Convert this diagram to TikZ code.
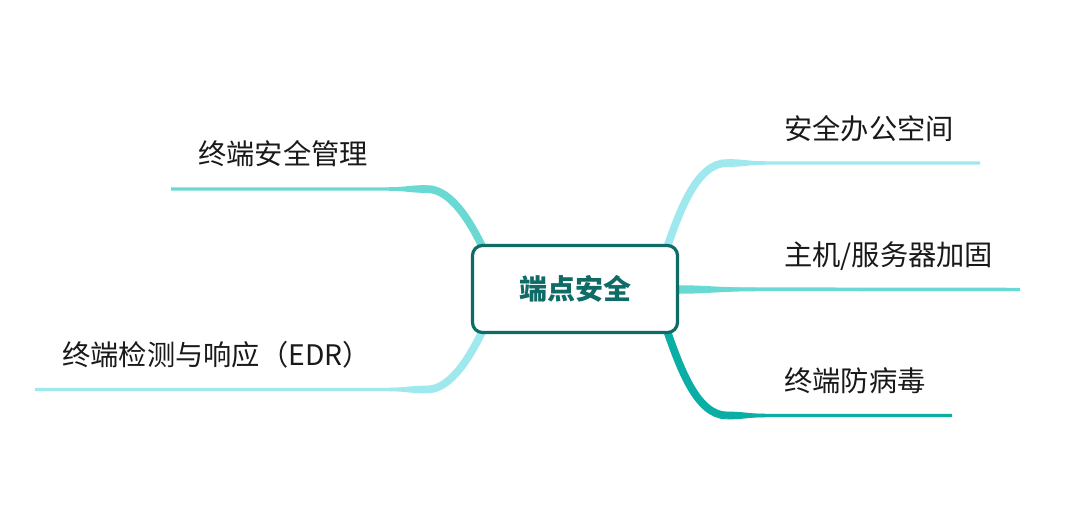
\documentclass[tikz,border=0pt]{standalone}
\usepackage{fontspec}
\setmainfont{Noto Sans CJK SC}
\usepackage{tikz}
\usetikzlibrary{backgrounds}
\definecolor{rootline}{HTML}{0E6B66}
\definecolor{twigpale}{HTML}{9FE9EE}
\definecolor{twigmid}{HTML}{6AD8D3}
\definecolor{twigdeep}{HTML}{0BAEA5}

\begin{document}
\begin{tikzpicture}[
    x=0.75pt,
    y=-0.75pt,
    font=\fontsize{21.2pt}{25pt}\selectfont,
    core/.style={
		rectangle,
		rounded corners=7.5pt,
		draw=rootline,
		line width=2.4pt,
		fill=white,
		text=rootline,
		text centered,
		minimum width=153.75pt,
		minimum height=65.25pt,
		font=\fontsize{21pt}{25pt}\selectfont\bfseries
	},
	topic/.style={
		anchor=base west,
		inner sep=0pt,
		text=black!90
	},
	thin/.style={
		line width=2.6pt
	},
	thick/.style={
		line width=5.8pt
	}
  ]

 \useasboundingbox (0,0) rectangle (1080,528);

 % // The root
 \node [core] (core) at (575,289) {端点安全};

 % // The topics
 \node [topic] (office) at (784,139) {安全办公空间};
 \node [topic] (host) at (784,265.5) {主机/服务器加固};
 \node [topic] (virus) at (784,391.5) {终端防病毒};
 \node [topic] (mgmt) at (198,164.5) {终端安全管理};
 \node [topic] (edr) at (62,365.5) {终端检测与响应（EDR）};

 \coordinate (officeBend) at (727,163);
 \coordinate (officeEnd) at (980,163);
 \coordinate (hostEnd) at (1020,289.5);
 \coordinate (virusBend) at (727,415.5);
 \coordinate (virusEnd) at (952,415.5);
 \coordinate (mgmtBend) at (427,189);
 \coordinate (mgmtEnd) at (171,189);
 \coordinate (edrBend) at (427,389.5);
 \coordinate (edrEnd) at (35,389.5);

 % // The branches
 \begin{scope}[on background layer]
 \draw [twigpale, thin] ([xshift=-9.75pt, yshift=-4.5pt]core.north east) .. controls (680,210) and (697,163) .. (officeBend) -- (officeEnd);
 \draw [twigpale, thick] ([xshift=-9.75pt, yshift=-4.5pt]core.north east) .. controls (680,210) and (697,163) .. (officeBend);
 \fill [twigpale] (727,159.1) .. controls (745,159.1) and (748,161.25) .. (765,161.25) -- (765,164.75) .. controls (748,164.75) and (745,166.9) .. (727,166.9) -- cycle;

 \draw [twigmid, thin] (core.east) -- (hostEnd);
 \fill [twigmid] (665,285.25) -- (679,285.25) .. controls (705,285.25) and (725,287.75) .. (755,287.75) -- (755,291.25) .. controls (725,291.25) and (705,293.75) .. (679,293.75) -- (665,293.75) -- cycle;

 \draw [twigdeep, thin] ([xshift=-9.75pt, yshift=4.5pt]core.south east) .. controls (680,368) and (697,415.5) .. (virusBend) -- (virusEnd);
 \draw [twigdeep, thick] ([xshift=-9.75pt, yshift=4.5pt]core.south east) .. controls (680,368) and (697,415.5) .. (virusBend);
 \fill [twigdeep] (727,411.6) .. controls (745,411.6) and (748,413.75) .. (765,413.75) -- (765,417.25) .. controls (748,417.25) and (745,419.4) .. (727,419.4) -- cycle;

 \draw [twigmid, thin] ([xshift=9.75pt, yshift=-4.5pt]core.north west) .. controls (472,225) and (452,189) .. (mgmtBend) -- (mgmtEnd);
 \draw [twigmid, thick] ([xshift=9.75pt, yshift=-4.5pt]core.north west) .. controls (472,225) and (452,189) .. (mgmtBend);
 \fill [twigmid] (427,185.1) .. controls (409,185.1) and (406,187.25) .. (389,187.25) -- (389,190.75) .. controls (406,190.75) and (409,192.9) .. (427,192.9) -- cycle;

 \draw [twigpale, thin] ([xshift=9.75pt, yshift=4.5pt]core.south west) .. controls (472,353) and (452,389.5) .. (edrBend) -- (edrEnd);
 \draw [twigpale, thick] ([xshift=9.75pt, yshift=4.5pt]core.south west) .. controls (472,353) and (452,389.5) .. (edrBend);
 \fill [twigpale] (427,385.6) .. controls (409,385.6) and (406,387.75) .. (389,387.75) -- (389,391.25) .. controls (406,391.25) and (409,393.4) .. (427,393.4) -- cycle;
 \end{scope}

\end{tikzpicture}
\end{document}
